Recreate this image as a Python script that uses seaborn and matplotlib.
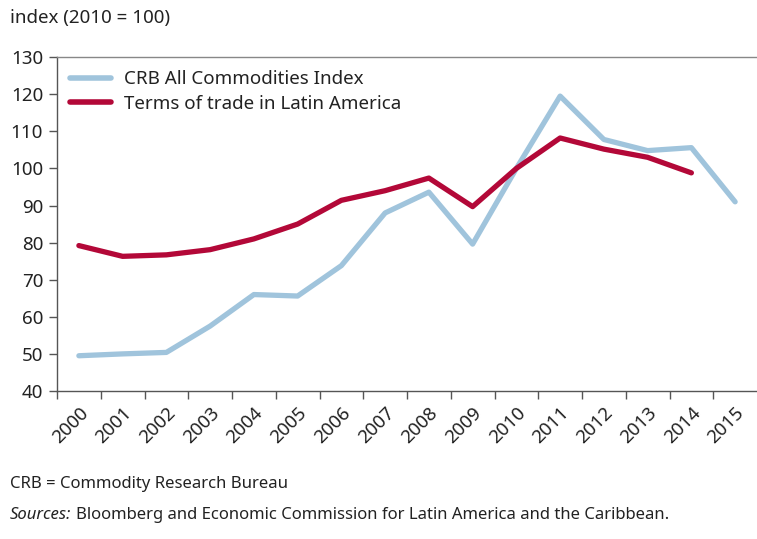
import matplotlib.pyplot as plt
import seaborn as sns
import pandas as pd
from matplotlib.ticker import FixedLocator

years = list(range(2000, 2016))
crb_index = [49.5, 50.0, 50.4, 57.5, 66.0, 65.6, 73.8, 88.0, 93.6, 79.6, 100.0, 119.5, 107.8, 104.8, 105.6, 91.0]
tot_years = list(range(2000, 2015))
terms_of_trade = [79.2, 76.3, 76.7, 78.1, 81.0, 85.0, 91.4, 94.0, 97.4, 89.7, 100.0, 108.2, 105.2, 103.0, 98.8]

crb_label = 'CRB All Commodities Index'
tot_label = 'Terms of trade in Latin America'

df = pd.concat([
    pd.DataFrame({'year': years, 'value': crb_index, 'series': crb_label}),
    pd.DataFrame({'year': tot_years, 'value': terms_of_trade, 'series': tot_label}),
])

sns.set_theme(style='white')
plt.rcParams['font.family'] = ['Noto Sans', 'DejaVu Sans']

fig = plt.figure(figsize=(7.57, 5.39), dpi=100)
ax = fig.add_axes([0.0753, 0.2746, 0.9247, 0.6194])

palette = {crb_label: '#a0c4dc', tot_label: '#b30838'}
sns.lineplot(data=df, x='year', y='value', hue='series', palette=palette,
             linewidth=3.8, ax=ax, legend=True)

ax.set_xlim(1999.5, 2015.5)
ax.set_ylim(40, 130)
ax.set_yticks(range(40, 131, 10))
ax.set_xticks(years)
ax.set_xticklabels([str(y) for y in years], rotation=45, ha='right', va='top',
                   rotation_mode='anchor', fontsize=13.5, color='#222222')
ax.xaxis.set_minor_locator(FixedLocator([y + 0.5 for y in range(1999, 2015)]))
ax.tick_params(axis='x', which='major', length=0, pad=9)
ax.tick_params(axis='x', which='minor', length=6, width=1, color='#555555', direction='out', bottom=True)
ax.tick_params(axis='y', length=6, width=1, color='#555555', direction='out', left=True,
               labelsize=13.5, labelcolor='#222222', pad=4)

ax.set_xlabel('')
ax.set_ylabel('')
ax.spines['right'].set_visible(False)
ax.spines['top'].set_color('#888888')
ax.spines['left'].set_color('#555555')
ax.spines['bottom'].set_color('#555555')
for s in ax.spines.values():
    s.set_linewidth(1)

leg = ax.legend(loc='upper left', frameon=False, fontsize=13.5, handlelength=2.2,
                handletextpad=0.65, borderaxespad=0.3, labelspacing=0.35,
                bbox_to_anchor=(0.0, 1.0))
for line in leg.get_lines():
    line.set_linewidth(4)
for t in leg.get_texts():
    t.set_color('#222222')

fig.text(0.013, 0.966, 'index (2010 = 100)', fontsize=13.5, color='#222222', va='center')
fig.text(0.013, 0.102, 'CRB = Commodity Research Bureau', fontsize=12, color='#222222', va='center')
src = fig.text(0.013, 0.044, 'Sources:', fontsize=12, color='#222222', va='center', style='italic')
fig.canvas.draw()
bb = src.get_window_extent().transformed(fig.transFigure.inverted())
fig.text(bb.x1 + 0.006, 0.044, 'Bloomberg and Economic Commission for Latin America and the Caribbean.',
         fontsize=12, color='#222222', va='center')

fig.savefig('out.png', dpi=100)
